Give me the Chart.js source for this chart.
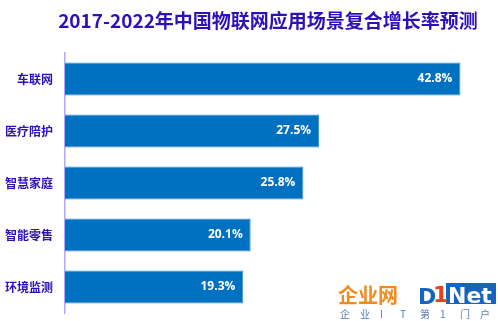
<!DOCTYPE html>
<html>
<head>
<meta charset="utf-8">
<script src="https://cdn.jsdelivr.net/npm/chart.js@4"></script>
<style>
  html, body { margin: 0; padding: 0; background: #fff; }
  #wrap { width: 498px; height: 321px; }
</style>
</head>
<body>
<div id="wrap"><canvas id="growthChart"></canvas></div>
<script>
const categories = ["车联网", "医疗陪护", "智慧家庭", "智能零售", "环境监测"];
const growthRates = [42.8, 27.5, 25.8, 20.1, 19.3];
const chartTitle = "2017-2022年中国物联网应用场景复合增长率预测";

const purple = "#2a12b8";
const cjk = "'Noto Sans CJK SC', 'Open Sans', sans-serif";

// title drawn by hand so it can sit a little right of centre like the original
const titleText = {
  id: "titleText",
  afterDraw(chart) {
    const ctx = chart.ctx;
    ctx.save();
    ctx.fillStyle = purple;
    ctx.font = "bold 19px " + cjk;
    ctx.textAlign = "center";
    ctx.textBaseline = "middle";
    ctx.fillText(chartTitle, 268, 21);
    ctx.restore();
  },
};

// white % labels just inside the end of each bar
const valueLabels = {
  id: "valueLabels",
  afterDatasetsDraw(chart) {
    const ctx = chart.ctx;
    const meta = chart.getDatasetMeta(0);
    ctx.save();
    ctx.fillStyle = "#fff";
    ctx.font = "bold 12px 'Open Sans', sans-serif";
    ctx.textAlign = "right";
    ctx.textBaseline = "middle";
    meta.data.forEach((bar, i) => {
      ctx.fillText(growthRates[i].toFixed(1) + "%", bar.x - 8, bar.y);
    });
    ctx.restore();
  },
};

// site watermark in the bottom right corner
const watermark = {
  id: "watermark",
  afterDraw(chart) {
    const ctx = chart.ctx;
    ctx.save();
    ctx.textBaseline = "alphabetic";
    ctx.font = "bold 20px " + cjk;
    ctx.fillStyle = "#f08a1c";
    ctx.fillText("企业网", 338, 303);
    ctx.fillStyle = "#1565c0";
    ctx.fillRect(446, 283, 50, 21);
    ctx.font = "bold 22px 'DejaVu Sans', sans-serif";
    ctx.fillStyle = "#1565c0";
    ctx.fillText("D", 418, 304);
    ctx.fillStyle = "#e8401c";
    ctx.fillText("1", 433, 302);
    ctx.fillStyle = "#fff";
    ctx.fillText("Net", 448, 303);
    ctx.font = "10px " + cjk;
    ctx.fillStyle = "#5a7fb0";
    const sub = ["企", "业", "I", "T", "第", "1", "门", "户"];
    sub.forEach((c, i) => ctx.fillText(c, 340 + i * 20, 318));
    ctx.restore();
  },
};

new Chart(document.getElementById("growthChart"), {
  type: "bar",
  data: {
    labels: categories,
    datasets: [
      {
        data: growthRates,
        backgroundColor: "#0070c0",
        borderColor: "#3d8fd6",
        borderWidth: 1,
        borderSkipped: "start",
        categoryPercentage: 1,
        barPercentage: 0.63,
      },
    ],
  },
  options: {
    indexAxis: "y",
    responsive: true,
    maintainAspectRatio: false,
    animation: false,
    layout: { padding: { left: 1, right: 8, top: 53, bottom: 8 } },
    plugins: {
      legend: { display: false },
      tooltip: { enabled: false },
      title: { display: false },
    },
    scales: {
      x: {
        display: false,
        min: 0,
        max: 46,
      },
      y: {
        afterFit(scale) {
          scale.width = 64;
          scale.paddingTop = 0;
          scale.paddingBottom = 0;
        },
        grid: {
          display: false,
          drawTicks: true,
          tickLength: 12,
          tickColor: "rgba(0,0,0,0)",
        },
        border: { display: true, color: "#b3a8ff", width: 1.5 },
        ticks: {
          color: purple,
          padding: 0,
          font: { family: cjk, size: 12, weight: "bold" },
        },
      },
    },
  },
  plugins: [titleText, valueLabels, watermark],
});
</script>
</body>
</html>
